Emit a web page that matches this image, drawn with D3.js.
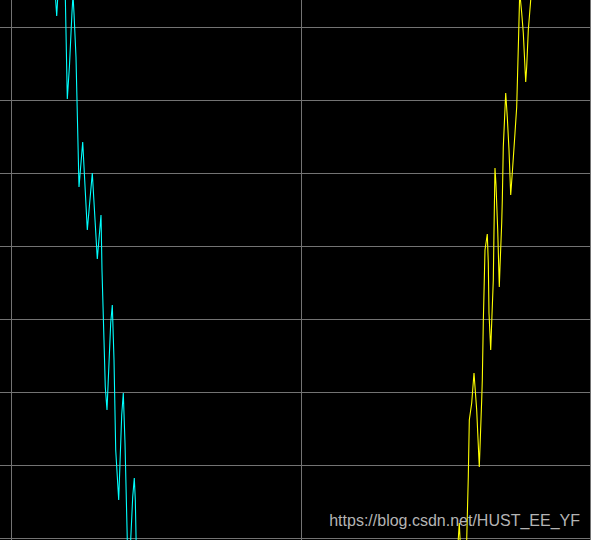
<!DOCTYPE html>
<meta charset="utf-8">
<script src="https://d3js.org/d3.v7.min.js"></script>
<style>
  body { margin: 0; background: #000; }
</style>
<div id="my_dataviz"></div>
<script>

// grid tick values
var xTicks = [0, 100, 200];
var yTicks = [0, 10, 20, 30, 40, 50, 60, 70];

// cyan trace (falling)
var cyanX = [14.51, 15.79, 16.58, 18.58, 19.45, 20.21, 21.07, 21.42, 21.76, 22.45,
  23.49, 24.77, 26.36, 28.08, 29.81, 31.09, 31.43, 32.12, 32.57, 33.16,
  34.44, 34.99, 35.58, 36.17, 37.20, 38.24, 38.79, 39.38, 40.17, 40.76,
  41.35, 42.04, 42.59, 42.94, 43.35];
var cyanY = [79.18, 71.51, 77.12, 77.81, 60.14, 64.79, 72.05, 74.38, 71.92, 65.89,
  48.08, 54.25, 42.19, 50.00, 38.22, 44.25, 36.71, 27.12, 20.68, 17.53,
  29.45, 31.92, 24.38, 12.05, 5.21, 16.85, 19.86, 13.01, -0.27, -4.38,
  -0.27, 5.62, 8.22, 5.21, -3.01];

// yellow trace (rising)
var yellowX = [154.06, 154.85, 155.44, 156.30, 157.41, 157.96, 158.31, 159.14, 159.93, 160.86,
  161.76, 162.59, 162.80, 163.14, 163.73, 164.52, 164.87, 165.11, 165.70, 166.04,
  166.60, 166.84, 167.18, 167.53, 168.12, 168.67, 168.91, 169.50, 169.71, 170.05,
  170.88, 171.43, 172.02, 172.61, 173.30, 174.09, 174.68, 175.37, 175.72, 176.41,
  176.96, 177.79, 178.13, 178.69, 179.52, 179.97];
var yellowY = [-3.01, 2.05, -3.01, -5.07, -0.27, 8.36, 16.16, 18.49, 22.60, 17.53,
  9.73, 18.90, 21.64, 29.45, 39.45, 41.64, 37.67, 30.82, 25.75, 29.45,
  35.34, 42.19, 50.68, 48.36, 42.19, 34.38, 37.12, 43.15, 46.30, 53.56,
  60.96, 57.67, 53.15, 46.99, 50.82, 55.48, 59.04, 69.18, 74.79, 71.92,
  69.18, 62.47, 64.52, 69.59, 73.70, 76.44];

var width = 591, height = 540;

var svg = d3.select("#my_dataviz")
  .append("svg")
    .attr("width", width)
    .attr("height", height)
    .style("display", "block")
    .style("background", "#000");

var x = d3.scaleLinear()
  .domain([0, 200])
  .range([11, 590]);

var y = d3.scaleLinear()
  .domain([0, 70])
  .range([538, 27]);

// grid
svg.append("g")
  .selectAll("line")
  .data(xTicks)
  .enter()
  .append("line")
    .attr("x1", function(d) { return Math.round(x(d)) + 0.5; })
    .attr("x2", function(d) { return Math.round(x(d)) + 0.5; })
    .attr("y1", 0)
    .attr("y2", height)
    .style("stroke", "#737373")
    .style("stroke-width", 1);

svg.append("g")
  .selectAll("line")
  .data(yTicks)
  .enter()
  .append("line")
    .attr("x1", 0)
    .attr("x2", width)
    .attr("y1", function(d) { return Math.round(y(d)) + 0.5; })
    .attr("y2", function(d) { return Math.round(y(d)) + 0.5; })
    .style("stroke", "#737373")
    .style("stroke-width", 1);

var line = d3.line()
  .x(function(d) { return x(d[0]); })
  .y(function(d) { return y(d[1]); });

svg.append("path")
  .datum(d3.zip(cyanX, cyanY))
  .attr("d", line)
  .style("fill", "none")
  .style("stroke", "#00ffff")
  .style("stroke-width", 1.1);

svg.append("path")
  .datum(d3.zip(yellowX, yellowY))
  .attr("d", line)
  .style("fill", "none")
  .style("stroke", "#ffff00")
  .style("stroke-width", 1.1);

// watermark
svg.append("text")
  .attr("x", 580)
  .attr("y", 526)
  .attr("text-anchor", "end")
  .style("font-family", "'Liberation Sans', Arial, sans-serif")
  .style("font-size", "16px")
  .style("fill", "#b4b4b4")
  .text("https://blog.csdn.net/HUST_EE_YF");

</script>
